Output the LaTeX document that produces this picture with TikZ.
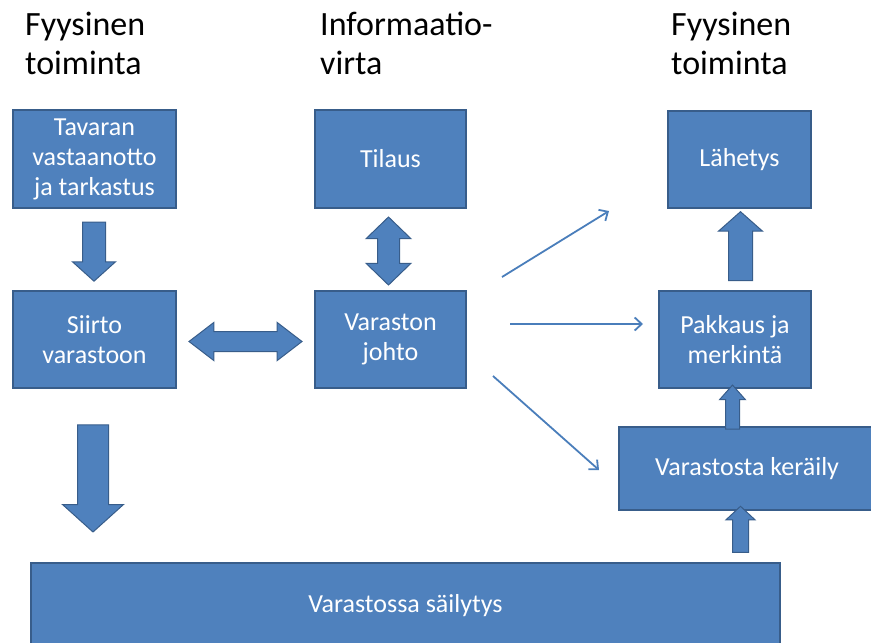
\documentclass[tikz,border=0pt]{standalone}
\usepackage{fontspec}
\setmainfont{Carlito}
\usepackage{tikz}
\usetikzlibrary{shapes.arrows,arrows.meta}
\definecolor{boxfill}{HTML}{4F81BD}
\definecolor{boxline}{HTML}{385D8A}
\definecolor{flowline}{HTML}{4A7EBB}
\tikzset{
  box/.style={draw=boxline, fill=boxfill, line width=1.2pt, text=white, align=center,
    inner sep=0pt, outer sep=0pt, font=\fontsize{26}{30}\selectfont},
  head/.style={anchor=north west, align=left, inner sep=0pt, font=\fontsize{34}{39}\selectfont},
  blkarrow/.style={single arrow, draw=boxline, fill=boxfill, line width=1pt,
    inner xsep=0pt, outer sep=0pt, minimum width=0pt},
  blkdouble/.style={double arrow, draw=boxline, fill=boxfill, line width=1pt,
    inner xsep=0pt, outer sep=0pt, minimum width=0pt},
  flow/.style={draw=flowline, line width=1.8pt, -{Straight Barb[length=7pt,width=13pt]}}
}
\begin{document}
\begin{tikzpicture}[x=1pt,y=-1pt]
		\useasboundingbox (0,0) rectangle (871,643);
		% otsikot
		\node[head] (h1) at (25,12) {Fyysinen\\toiminta};
		\node[head] (h2) at (320,12) {Informaatio-\\virta};
		\node[head] (h3) at (671,12) {Fyysinen\\toiminta};
		% laatikot
		\node[box, minimum width=163pt, minimum height=98pt] (tav) at (94.5,159) {Tavaran\\vastaanotto\\ja tarkastus};
		\node[box, minimum width=163pt, minimum height=97pt] (sii) at (94.5,339.5) {Siirto\\varastoon};
		\node[box, minimum width=151pt, minimum height=98pt] (til) at (390.5,159) {Tilaus};
		\node[box, minimum width=151pt, minimum height=97pt] (joh) at (390.5,339.5) {Varaston\\johto};
		\node[box, minimum width=143pt, minimum height=97pt] (lah) at (739.5,159.5) {Lähetys};
		\node[box, minimum width=152pt, minimum height=97pt] (pak) at (735,339.5) {Pakkaus ja\\merkintä};
		\node[box, minimum width=256pt, minimum height=83pt] (ker) at (747,468.5) {Varastosta keräily};
		\node[box, minimum width=749pt, minimum height=85pt] (sai) at (405.5,605.5) {Varastossa säilytys};
		% paksut nuolet
		\node[blkarrow, rotate=-90, inner ysep=11pt, single arrow head extend=10pt,
		  single arrow tip angle=96, minimum height=59pt] (a1) at (94,246.5) {};
		\node[blkarrow, rotate=-90, inner ysep=15pt, single arrow head extend=15pt,
		  single arrow tip angle=96, minimum height=107pt] (a2) at (93,471.5) {};
		\node[blkdouble, inner ysep=9.5pt, double arrow head extend=9pt,
		  double arrow tip angle=75, minimum height=113pt] (a3) at (245.5,341.5) {};
		\node[blkdouble, rotate=90, inner ysep=10.5pt, double arrow head extend=11.5pt,
		  double arrow tip angle=92, minimum height=68pt] (a4) at (388.5,251) {};
		\node[blkarrow, rotate=90, inner ysep=11.5pt, single arrow head extend=10pt,
		  single arrow tip angle=97, minimum height=69pt] (a5) at (740.5,251.5) {};
		\node[blkarrow, rotate=90, inner ysep=6.5pt, single arrow head extend=6pt,
		  single arrow tip angle=83, minimum height=44pt] (a6) at (732.5,411) {};
		\node[blkarrow, rotate=90, inner ysep=7.5pt, single arrow head extend=6.5pt,
		  single arrow tip angle=94, minimum height=46pt] (a7) at (740.5,533) {};
		% ohuet nuolet
		\coordinate (f1a) at (502,277);
		\coordinate (f1b) at (609,211);
		\coordinate (f2a) at (510,324);
		\coordinate (f2b) at (643,324);
		\coordinate (f3a) at (493,376);
		\coordinate (f3b) at (599,470);
		\draw[flow] (f1a) -- (f1b);
		\draw[flow] (f2a) -- (f2b);
		\draw[flow] (f3a) -- (f3b);
\end{tikzpicture}
\end{document}
